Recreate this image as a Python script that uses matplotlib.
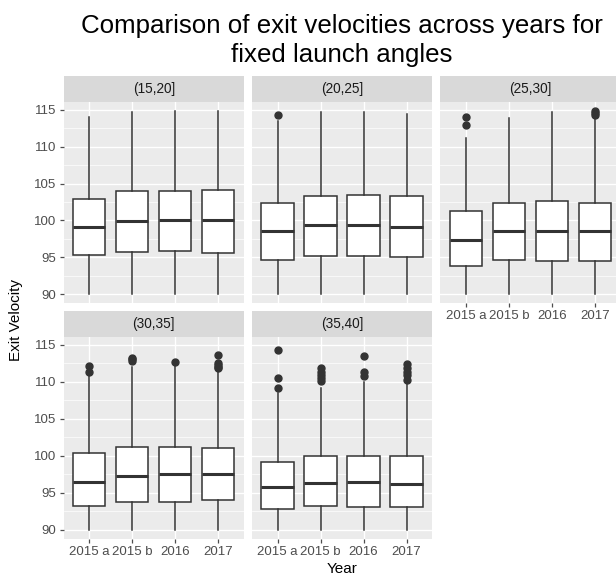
import matplotlib
matplotlib.use("Agg")
import matplotlib.pyplot as plt
from matplotlib.ticker import FixedLocator

plt.rcParams['font.family'] = ['Liberation Sans', 'DejaVu Sans']

years = ["2015 a", "2015 b", "2016", "2017"]
facets = ["(15,20]", "(20,25]", "(25,30]", "(30,35]", "(35,40]"]
title_lines = ["Comparison of exit velocities across years for", "fixed launch angles"]

# per facet: lists over years
whislo = {
    "(15,20]": [90.0, 90.0, 90.0, 90.0],
    "(20,25]": [90.0, 90.0, 90.0, 90.0],
    "(25,30]": [90.0, 90.0, 90.0, 90.0],
    "(30,35]": [90.0, 90.0, 90.0, 90.0],
    "(35,40]": [90.0, 90.0, 90.0, 90.0],
}
q1 = {
    "(15,20]": [95.25, 95.7, 95.8, 95.6],
    "(20,25]": [94.6, 95.1, 95.1, 95.0],
    "(25,30]": [93.8, 94.6, 94.5, 94.5],
    "(30,35]": [93.2, 93.8, 93.75, 94.05],
    "(35,40]": [92.8, 93.25, 93.15, 93.15],
}
med = {
    "(15,20]": [99.15, 99.96, 100.05, 100.1],
    "(20,25]": [98.5, 99.4, 99.4, 99.15],
    "(25,30]": [97.3, 98.6, 98.5, 98.5],
    "(30,35]": [96.5, 97.35, 97.6, 97.5],
    "(35,40]": [95.85, 96.4, 96.5, 96.2],
}
q3 = {
    "(15,20]": [102.9, 104.0, 104.0, 104.1],
    "(20,25]": [102.4, 103.3, 103.5, 103.3],
    "(25,30]": [101.3, 102.4, 102.6, 102.3],
    "(30,35]": [100.4, 101.25, 101.25, 101.1],
    "(35,40]": [99.25, 100.0, 100.05, 100.05],
}
whishi = {
    "(15,20]": [114.1, 114.7, 114.9, 114.9],
    "(20,25]": [113.5, 114.7, 114.7, 114.5],
    "(25,30]": [111.15, 113.9, 114.7, 114.1],
    "(30,35]": [111.0, 112.0, 112.3, 111.7],
    "(35,40]": [108.5, 109.2, 110.0, 110.0],
}
fliers = {
    "(15,20]": [[], [], [], []],
    "(20,25]": [[114.3], [], [], []],
    "(25,30]": [[114.0, 112.9], [], [], [114.9, 114.6, 114.3]],
    "(30,35]": [[112.2, 111.4], [113.3, 113.1, 112.85], [112.7],
                [113.7, 112.6, 112.3, 112.0, 111.9]],
    "(35,40]": [[114.3, 110.6, 109.15], [111.85, 111.4, 111.0, 110.6, 110.1],
                [113.5, 111.3, 110.8], [112.4, 111.9, 111.4, 110.9, 110.3]],
}

W, H = 616, 576
fig = plt.figure(figsize=(W / 100, H / 100), dpi=100)

def rect(x0, y0, x1, y1):
    return [x0 / W, 1 - y1 / H, (x1 - x0) / W, (y1 - y0) / H]

cols = [(63.5, 244.1), (251.8, 432.4), (440.2, 620.8)]
rows = [(101.5, 303.2, 76.0), (336.5, 539.2, 311.0)]

PANEL_BG = "#EBEBEB"
STRIP_BG = "#D9D9D9"
LINE = "#333333"
TICK = "#4D4D4D"

for i, f in enumerate(facets):
    r, c = divmod(i, 3)
    x0, x1 = cols[c]
    y0, y1, sy = rows[r]
    ax = fig.add_axes(rect(x0, y0, x1, y1))
    ax.set_facecolor(PANEL_BG)
    for s in ax.spines.values():
        s.set_visible(False)
    stats = []
    for j, yr in enumerate(years):
        stats.append(dict(label=yr, whislo=whislo[f][j], q1=q1[f][j], med=med[f][j],
                          q3=q3[f][j], whishi=whishi[f][j], fliers=fliers[f][j]))
    ax.bxp(stats, positions=range(len(years)), widths=0.75, patch_artist=True,
           showcaps=False,
           boxprops=dict(facecolor="white", edgecolor=LINE, linewidth=1.1),
           medianprops=dict(color=LINE, linewidth=2.2),
           whiskerprops=dict(color=LINE, linewidth=1.1),
           flierprops=dict(marker="o", markerfacecolor=LINE, markeredgecolor=LINE,
                           markersize=5, linestyle="none"),
           zorder=3)
    ax.set_xlim(-0.6, 3.6)
    ax.set_ylim(88.755, 116.145)
    ax.yaxis.set_major_locator(FixedLocator([90, 95, 100, 105, 110, 115]))
    ax.yaxis.set_minor_locator(FixedLocator([92.5, 97.5, 102.5, 107.5, 112.5]))
    ax.grid(which="major", color="white", linewidth=1.0, zorder=0)
    ax.grid(which="minor", axis="y", color="white", linewidth=0.5, zorder=0)
    ax.set_axisbelow(True)
    ax.set_xticks(range(len(years)))
    ax.set_xticklabels(years)
    ax.tick_params(axis="both", which="major", length=3, width=0.9, color=TICK,
                   labelcolor=TICK, labelsize=9.5, pad=2)
    ax.tick_params(axis="both", which="minor", length=0)
    if c != 0:
        ax.tick_params(axis="y", which="major", labelleft=False, left=False)
    show_x = (r == 1) or (c == 2)
    if not show_x:
        ax.tick_params(axis="x", labelbottom=False, bottom=False)
    # strip
    sax = fig.add_axes(rect(x0, sy, x1, y0))
    sax.set_facecolor(STRIP_BG)
    sax.set_xticks([])
    sax.set_yticks([])
    for s in sax.spines.values():
        s.set_visible(False)
    sax.text(0.5, 0.5, f, ha="center", va="center", fontsize=9.8, color="#1A1A1A",
             transform=sax.transAxes)

fig.text(342 / W, 1 - 33 / H, title_lines[0], ha="center", va="baseline",
         fontsize=18.6, color="black")
fig.text(342 / W, 1 - 62 / H, title_lines[1], ha="center", va="baseline",
         fontsize=18.6, color="black")
fig.text(342 / W, 1 - 569 / H, "Year", ha="center", va="center", fontsize=11, color="black")
fig.text(16 / W, 1 - 320 / H, "Exit Velocity", ha="center", va="center",
         rotation=90, fontsize=11, color="black")

fig.savefig("out.png", dpi=100, facecolor="white")
